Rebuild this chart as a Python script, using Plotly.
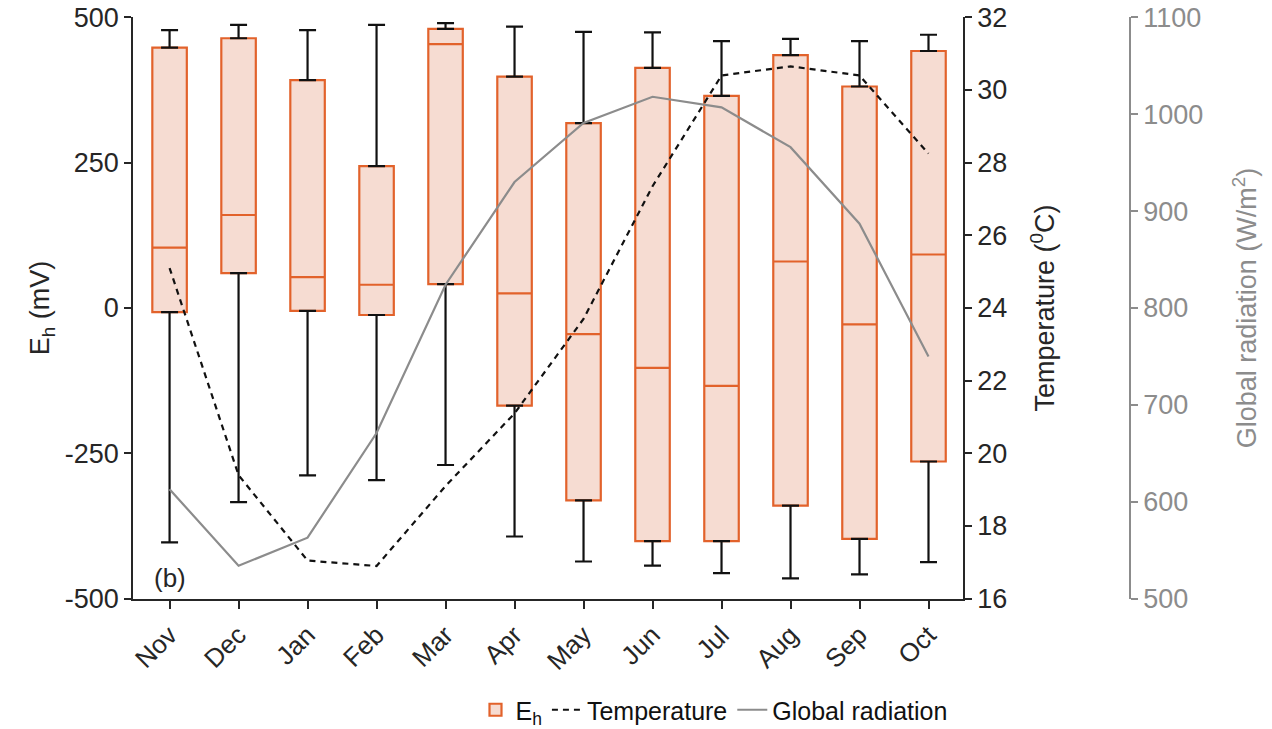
import plotly.graph_objects as go

months = ["Nov", "Dec", "Jan", "Feb", "Mar", "Apr", "May", "Jun", "Jul", "Aug", "Sep", "Oct"]
eh_upper = [478, 487, 478, 487, 490, 484, 475, 474, 459, 463, 459, 470]
eh_q3 = [448, 464, 392, 244, 480, 398, 318, 413, 365, 435, 381, 442]
eh_median = [104, 160, 53, 40, 454, 25, -45, -103, -134, 80, -28, 92]
eh_q1 = [-7, 60, -5, -12, 41, -168, -331, -401, -401, -340, -397, -264]
eh_lower = [-403, -334, -288, -296, -270, -393, -436, -443, -456, -465, -458, -437]
temperature = [25.1, 19.4, 17.05, 16.9, 19.1, 21.1, 23.7, 27.35, 30.4, 30.65, 30.4, 28.25]
radiation = [613, 534, 563, 671, 824, 930, 991, 1018, 1007, 966, 887, 750]

eh_ticks = [-500, -250, 0, 250, 500]
eh_ticklabels = ["-500", "-250", "0", "250", "500"]
temp_ticks = [16, 18, 20, 22, 24, 26, 28, 30, 32]
rad_ticks = [500, 600, 700, 800, 900, 1000, 1100]

FONT = "Liberation Sans, Arial, Helvetica, sans-serif"
ORANGE = "#E2622B"
FILL = "#F6DCD2"
DARK = "#262626"
GRAY = "#8C8C8C"

W, H = 1272, 729

fig = go.Figure()

# whiskers (black) via error bars from box edges
fig.add_trace(go.Scatter(
    x=months, y=eh_q3, mode="markers",
    marker=dict(size=1, color="rgba(0,0,0,0)"),
    error_y=dict(type="data", symmetric=False,
                 array=[u - q for u, q in zip(eh_upper, eh_q3)],
                 arrayminus=[0] * len(months),
                 color="#111111", thickness=2.2, width=8.5),
    showlegend=False, hoverinfo="skip"))
fig.add_trace(go.Scatter(
    x=months, y=eh_q1, mode="markers",
    marker=dict(size=1, color="rgba(0,0,0,0)"),
    error_y=dict(type="data", symmetric=False,
                 array=[0] * len(months),
                 arrayminus=[q - l for q, l in zip(eh_q1, eh_lower)],
                 color="#111111", thickness=2.2, width=8.5),
    showlegend=False, hoverinfo="skip"))

fig.add_trace(go.Box(
    x=months, q1=eh_q1, median=eh_median, q3=eh_q3,
    lowerfence=eh_q1, upperfence=eh_q3,
    name="E<sub>h</sub>", width=0.5,
    fillcolor=FILL, line=dict(color=ORANGE, width=2.2),
    whiskerwidth=0, boxpoints=False))

fig.add_trace(go.Scatter(
    x=months, y=temperature, yaxis="y2", mode="lines",
    name="Temperature", line=dict(color="#111111", width=2.2, dash="6px,5px")))
fig.add_trace(go.Scatter(
    x=months, y=radiation, yaxis="y3", mode="lines",
    name="Global radiation", line=dict(color=GRAY, width=2.2)))

fig.add_annotation(x=0, y=-465, xref="x", yref="y", text="(b)", showarrow=False,
                   font=dict(family=FONT, size=26, color=DARK))

fig.update_layout(
    width=W, height=H,
    margin=dict(l=0, r=0, t=0, b=0, autoexpand=False),
    paper_bgcolor="white", plot_bgcolor="white",
    font=dict(family=FONT, size=27, color=DARK),
    boxmode="overlay",
    xaxis=dict(domain=[133 / W, 963 / W], range=[-0.53, 11.5],
               showline=True, linecolor=DARK, linewidth=1.5,
               ticks="outside", ticklen=9, tickwidth=1.5, tickcolor=DARK,
               tickangle=-45, showgrid=False, zeroline=False,
               ticklabeloverflow="allow",
               tickfont=dict(size=26, color=DARK)),
    yaxis=dict(domain=[1 - 598.7 / H, 1 - 17.3 / H], range=[-500, 500],
               tickvals=eh_ticks, ticktext=eh_ticklabels,
               showline=True, linecolor=DARK, linewidth=1.5,
               ticks="outside", ticklen=7, tickwidth=1.5, tickcolor=DARK,
               showgrid=False, zeroline=False, ticklabeloverflow="allow",
               tickfont=dict(size=27, color=DARK),
               title=dict(text="E<sub>h</sub> (mV)", standoff=7,
                          font=dict(size=27, color=DARK))),
    yaxis2=dict(overlaying="y", side="right", anchor="x", range=[16, 32],
                tickvals=temp_ticks,
                showline=True, linecolor=DARK, linewidth=1.5,
                ticks="outside", ticklen=7, tickwidth=1.5, tickcolor=DARK,
                showgrid=False, zeroline=False, ticklabeloverflow="allow",
                tickfont=dict(size=27, color=DARK),
                title=dict(text="Temperature (<sup>0</sup>C)", standoff=29,
                           font=dict(size=27, color=DARK))),
    yaxis3=dict(overlaying="y", side="right", anchor="free", position=1130 / W,
                range=[500, 1100], tickvals=rad_ticks,
                showline=True, linecolor=GRAY, linewidth=1.5,
                ticks="outside", ticklen=7, tickwidth=1.5, tickcolor=GRAY,
                showgrid=False, zeroline=False, ticklabeloverflow="allow",
                tickfont=dict(size=27, color=GRAY),
                title=dict(text="Global radiation (W/m<sup>2</sup>)", standoff=34,
                           font=dict(size=27, color=GRAY))),
    legend=dict(orientation="h", x=714 / W, y=(H - 710) / H,
                xanchor="center", yanchor="middle",
                font=dict(size=25, color="#111111"),
                bgcolor="rgba(0,0,0,0)", itemwidth=30, tracegroupgap=0),
    showlegend=True,
)

fig.write_html("out.html", config={"displayModeBar": False},
               post_script="document.body.style.margin='0';document.body.style.overflow='hidden';")
